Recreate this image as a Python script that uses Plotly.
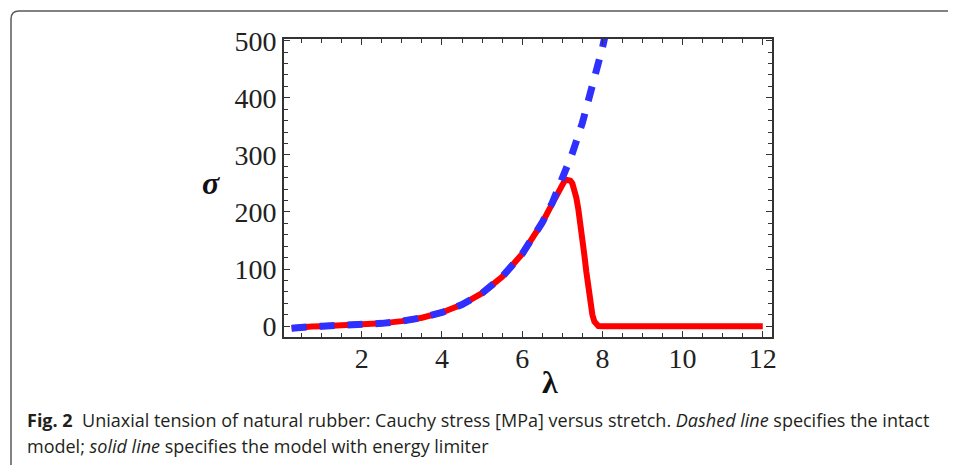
import plotly.graph_objects as go

# Intact model (dashed blue)
lam_intact = [0.25, 0.5, 0.75, 1.0, 1.5, 2.0, 2.5, 3.0, 3.5, 4.0, 4.5, 5.0, 5.5, 6.0,
              6.25, 6.5, 6.75, 7.0, 7.25, 7.5, 7.75, 8.0, 8.25]
sig_intact = [-3.6, -1.2, -0.5, 0.0, 1.0, 2.5, 4.9, 8.8, 14.8, 24.0, 37.8, 57.8, 86.4, 126.5,
              151.9, 181.6, 216.1, 256.2, 302.6, 355.9, 417.2, 487.2, 567.1]

# Model with energy limiter (solid red)
lam_limiter = [0.25, 0.5, 0.75, 1.0, 1.5, 2.0, 2.5, 3.0, 3.5, 4.0, 4.5, 5.0, 5.5, 6.0,
               6.25, 6.5, 6.75, 7.0, 7.05, 7.1, 7.15, 7.2, 7.25, 7.3, 7.35, 7.4, 7.45,
               7.5, 7.55, 7.6, 7.65, 7.7, 7.75, 7.8, 7.85, 7.9, 8.0, 9.0, 10.0, 11.0, 12.0]
sig_limiter = [-3.6, -1.2, -0.5, 0.0, 1.0, 2.5, 4.9, 8.8, 14.8, 24.0, 37.8, 57.8, 86.4, 126.5,
               151.8, 181.2, 214.5, 249.0, 253.5, 256.5, 257.0, 255.0, 250.0, 240.0, 225.0,
               205.0, 182.0, 155.0, 125.0, 95.0, 66.0, 40.0, 20.0, 8.0, 2.0, 0.3, 0.0,
               0.0, 0.0, 0.0, 0.0]

x_ticks = [2, 4, 6, 8, 10, 12]
y_ticks = [0, 100, 200, 300, 400, 500]

# plot-area pixel geometry (window coordinates); page body has an 8px margin
OFF = 8
L, R, T, B = 284, 772, 39, 337
WIN_W, WIN_H = 956, 465
pw, ph = R - L, B - T


def px(x):
    return (x - L) / pw


def py(y):
    return (B - y) / ph


fig = go.Figure()
fig.add_trace(go.Scatter(x=lam_limiter, y=sig_limiter, mode="lines",
                         line=dict(color="#ff0000", width=6), showlegend=False))
fig.add_trace(go.Scatter(x=lam_intact, y=sig_intact, mode="lines",
                         line=dict(color="#2f2fff", width=7, dash="15px,13px"),
                         showlegend=False))

tickfont = dict(family="Liberation Serif", size=28, color="#222222")
axis_common = dict(showgrid=False, zeroline=False, showline=True, linecolor="#333333",
                   linewidth=1.6, mirror="allticks", ticks="inside", ticklen=6,
                   tickwidth=1.2, tickcolor="#333333", tickfont=tickfont)

fig.update_xaxes(range=[0.06, 12.23], tickvals=x_ticks, ticklabelstandoff=-4,
                 minor=dict(dtick=0.5, ticks="inside", ticklen=4, tickwidth=1,
                            tickcolor="#333333"),
                 **axis_common)
fig.update_yaxes(range=[-19, 503], tickvals=y_ticks,
                 minor=dict(dtick=20, ticks="inside", ticklen=4, tickwidth=1,
                            tickcolor="#333333"),
                 **axis_common)

# outer rounded border (left + top)
r = 8
path = (f"M {px(11)} {py(480)} L {px(11)} {py(11 + r)} "
        f"Q {px(11)} {py(11)} {px(11 + r)} {py(11)} L {px(970)} {py(11)}")
fig.add_shape(type="path", path=path, xref="paper", yref="paper",
              line=dict(color="#5a5a5a", width=1.5))

annotations = [
    dict(text="<b><i>σ</i></b>", x=px(211), y=py(183), xref="paper", yref="paper",
         xanchor="center", yanchor="middle",
         showarrow=False, font=dict(family="Liberation Serif", size=32, color="#111111")),
    dict(text="<b>λ</b>", x=px(550), y=py(382), xref="paper", yref="paper",
         xanchor="center", yanchor="middle",
         showarrow=False, font=dict(family="Liberation Serif", size=32, color="#111111")),
    dict(text="<b>Fig. 2</b>  Uniaxial tension of natural rubber: Cauchy stress [MPa] versus stretch. "
              "<i>Dashed line</i> specifies the intact",
         x=px(25), y=py(420), xref="paper", yref="paper", xanchor="left", yanchor="middle",
         showarrow=False, font=dict(family="Open Sans", size=18, color="#231f20")),
    dict(text="model; <i>solid line</i> specifies the model with energy limiter",
         x=px(25), y=py(446), xref="paper", yref="paper", xanchor="left", yanchor="middle",
         showarrow=False, font=dict(family="Open Sans", size=18, color="#231f20")),
]

fig.update_layout(width=WIN_W - OFF, height=WIN_H - OFF,
                  margin=dict(l=L - OFF, r=WIN_W - R, t=T - OFF, b=WIN_H - B),
                  paper_bgcolor="white", plot_bgcolor="white",
                  annotations=annotations)

fig.write_html("out.html")
